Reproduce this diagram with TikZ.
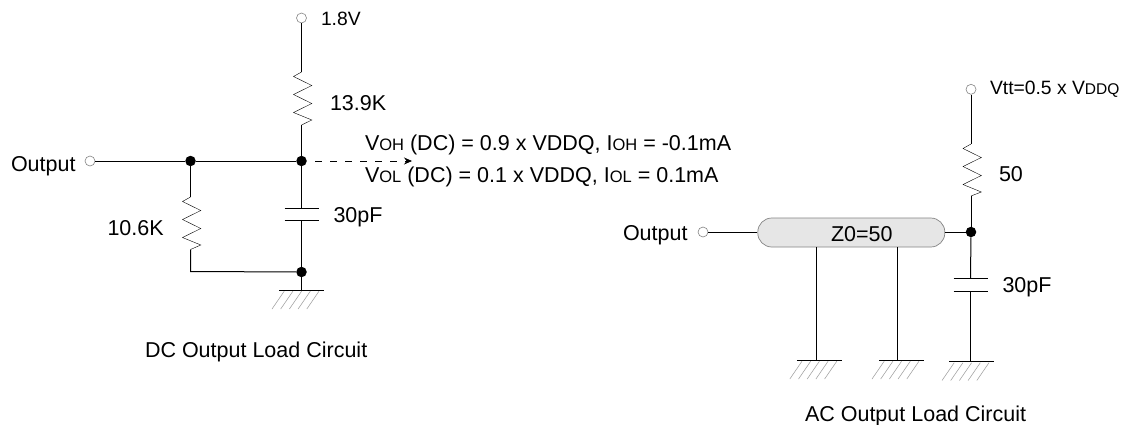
\documentclass[tikz,border=0pt]{standalone}
\usepackage{fontspec}
\setmainfont{Liberation Sans}
\usetikzlibrary{arrows.meta,calc}
\definecolor{pillfill}{HTML}{E6E6E6}
\definecolor{thin}{HTML}{858585}
\definecolor{thinh}{HTML}{A0A0A0}
\newcommand{\bigt}{\fontsize{21.5}{24}\selectfont}
\newcommand{\smt}{\fontsize{16.5}{18}\selectfont}
\newcommand{\vtbig}{\fontsize{19.3}{21}\selectfont}
\newcommand{\vtsm}{\fontsize{15.5}{17}\selectfont}
% #1 = coordinate at the wire end, #2 = centre of the symbol relative to it
\newcommand{\gndsym}[2]{%
  \draw[wire] ($(#1)+(#2-22.5,0)$) -- ($(#1)+(#2+22.5,0)$);
  \foreach \dx in {-29.5,-20.8,-12.1,-3.4,5.3}
    \draw[hatch] ($(#1)+(#2+\dx,19)$) -- ($(#1)+(#2+\dx+12.2,1.2)$);
}
\newcommand{\capsym}[2]{%
  \draw[wire] ($(#1)+(-17,0)$) -- ($(#1)+(17,0)$);
  \draw[wire] ($(#2)+(-17,0)$) -- ($(#2)+(17,0)$);
}
\newcommand{\zigzag}[2]{%
  \draw[zig] (#1) -- ++(-8,4.5) -- ++(18.3,9) -- ++(-18.3,9) -- ++(18.3,9) -- ++(-18.3,9) -- ++(18.3,7.5) -- (#2);
}
\tikzset{
  x=1pt,y=-1pt,
  wire/.style={line width=1pt,black},
  zig/.style={line width=0.6pt,thin},
  hatch/.style={line width=0.55pt,thinh},
  dot/.style={circle,fill=black,inner sep=0pt,minimum size=10.5pt},
  term/.style={circle,draw=thin,fill=white,line width=0.6pt,inner sep=0pt,minimum size=10pt},
  lab/.style={anchor=base west,inner sep=0pt,outer sep=0pt,font=\bigt},
  pill/.style={rounded corners=14pt,draw=thin,fill=pillfill,line width=0.7pt,inner sep=0pt,minimum width=187pt,minimum height=29pt},
}
\begin{document}
\begin{tikzpicture}
\useasboundingbox (0,0) rectangle (1123,424);
\fill[white] (0,0) rectangle (1123,424);
% DC circuit
\node[term] (dcv) at (301.5,18) {};
\node[term] (dco) at (90,161) {};
\node[dot] (dcj1) at (190.5,161) {};
\node[dot] (dcj2) at (301.5,161) {};
\node[dot] (dcj3) at (301.5,272) {};
\coordinate (r1t) at (301.5,72);
\coordinate (r1b) at (301.5,125);
\coordinate (r2t) at (190.5,197);
\coordinate (r2b) at (190.5,249.5);
\coordinate (c1a) at (301.5,208);
\coordinate (c1b) at (301.5,220.5);
\coordinate (g0) at (301.5,290);
\coordinate (r2c) at (190.5,271.5);
\coordinate (arr) at (412,161);
\draw[wire] (dcv) -- (r1t);
\zigzag{r1t}{r1b}
\draw[wire] (r1b) -- (dcj2);
\draw[wire] (dco) -- (dcj1) -- (dcj2);
\draw[wire] (dcj1) -- (r2t);
\zigzag{r2t}{r2b}
\draw[wire] (r2b) -- (r2c) -- (dcj3);
\draw[wire] (dcj2) -- (c1a);
\capsym{c1a}{c1b}
\draw[wire] (c1b) -- (dcj3);
\draw[wire] (dcj3) -- (g0);
\gndsym{g0}{0}
\draw[line width=0.8pt,dash pattern=on 6.5pt off 8.5pt,dash phase=6.5pt,-{Stealth[length=8pt,width=7pt]}] (dcj2) -- (arr);
\node[lab,font=\vtbig] (t1) at (321,25) {1.8V};
\node[lab] (t2) at (330,110) {13.9K};
\node[lab] (t3) at (11,171) {Output};
\node[lab] (t4) at (107.5,235) {10.6K};
\node[lab] (t5) at (333.5,222.5) {30pF};
\node[lab] (t6) at (145,357) {DC Output Load Circuit};
\node[lab] (t7) at (365,150) {V{\smt OH} (DC) = 0.9 x VDDQ, I{\smt OH} = -0.1mA};
\node[lab] (t8) at (365,182) {V{\smt OL} (DC) = 0.1 x VDDQ, I{\smt OL} = 0.1mA};
% AC circuit
\node[term] (acv) at (971,89.3) {};
\node[term] (aco) at (703,232) {};
\node[dot] (acj) at (971,232) {};
\node[pill] (tl) at (851.3,232.5) {};
\node[lab] at (831,241) (t9) {Z0=50};
\coordinate (r3t) at (971,144);
\coordinate (r3b) at (971,196);
\coordinate (c2a) at (970.5,278.5);
\coordinate (c2b) at (970.5,291.5);
\coordinate (g1) at (816.7,360);
\coordinate (g2) at (897.3,360);
\coordinate (g3) at (970.5,361.5);
\coordinate (s1) at (816.7,247);
\coordinate (s2) at (897.3,247);
\draw[wire] (acv) -- (r3t);
\zigzag{r3t}{r3b}
\draw[wire] (r3b) -- (acj);
\draw[wire] (aco) -- (tl.west |- aco);
\draw[wire] (tl.east |- acj) -- (acj);
\draw[wire] (s1) -- (g1);
\draw[wire] (s2) -- (g2);
\draw[wire] (acj) -- (c2a);
\capsym{c2a}{c2b}
\draw[wire] (c2b) -- (g3);
\gndsym{g1}{2.6}
\gndsym{g2}{4.2}
\gndsym{g3}{1}
\node[lab] (t10) at (623,240) {Output};
\node[lab] (t11) at (999,181) {50};
\node[lab] (t12) at (1002.5,292.5) {30pF};
\node[lab,font=\vtbig] (t13) at (990,94) {Vtt=0.5 x V{\vtsm DDQ}};
\node[lab] (t14) at (805,421) {AC Output Load Circuit};
\end{tikzpicture}
\end{document}
